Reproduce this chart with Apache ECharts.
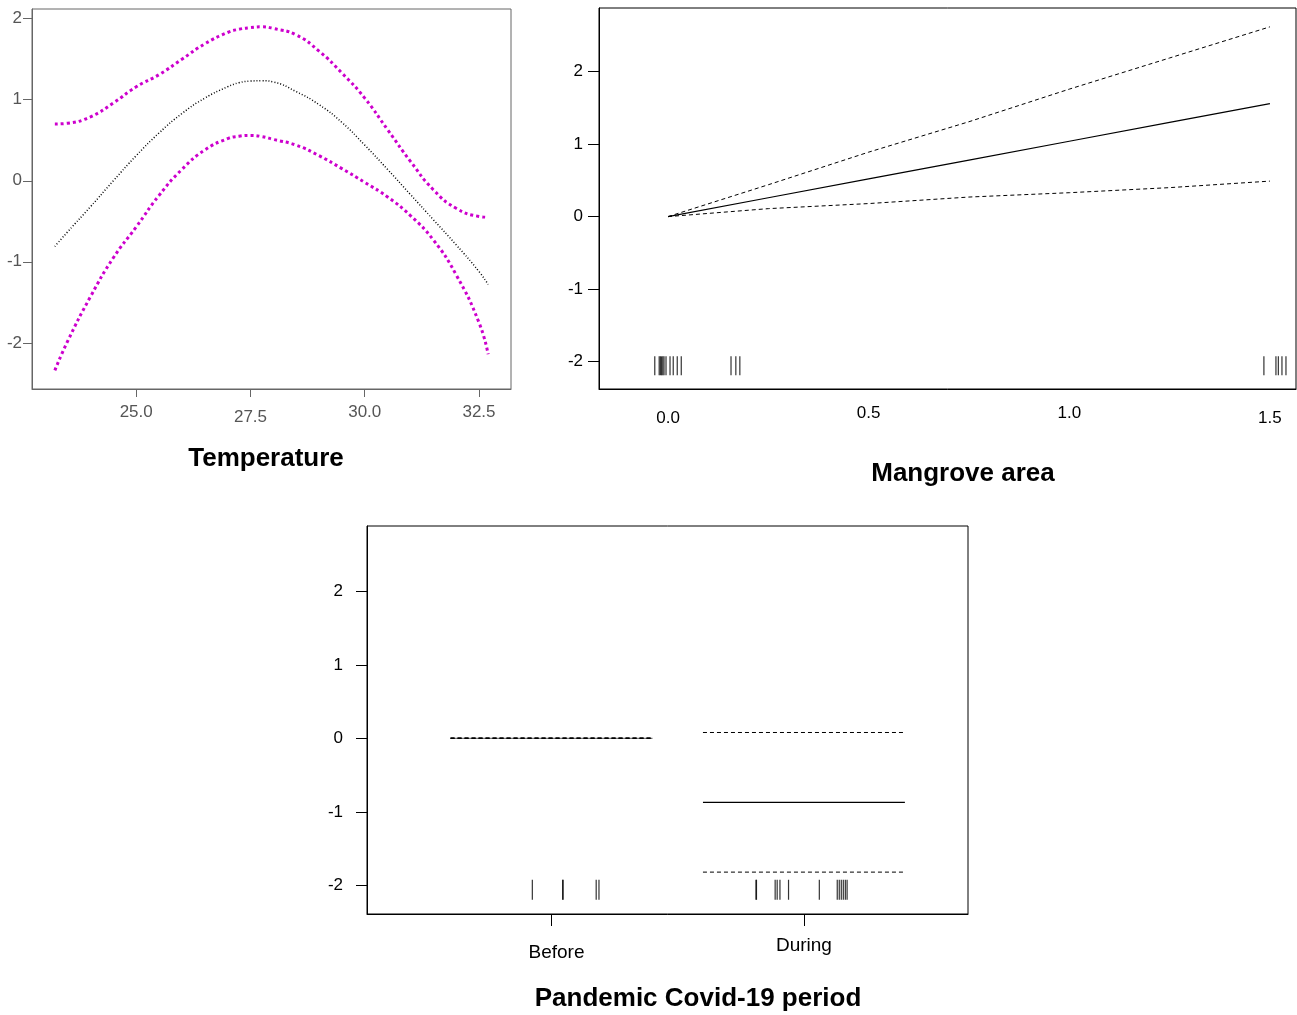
<!DOCTYPE html>
<html>
<head>
<meta charset="utf-8">
<title>GAM partial effects</title>
<script src="https://cdn.jsdelivr.net/npm/echarts@6/dist/echarts.min.js"></script>
<style>
  html, body { margin: 0; padding: 0; background: #fff; }
  #chart { width: 1297px; height: 1015px; }
</style>
</head>
<body>
<div id="chart"></div>
<script>
// ---- data: Temperature panel ----
var tempX = [23.22, 23.5, 24.0, 24.5, 25.0, 25.5, 26.0, 26.5, 27.0, 27.25, 27.5, 27.75, 28.0, 28.5, 29.0, 29.5, 30.0, 30.5, 31.0, 31.5, 32.0, 32.5, 32.7];
var tempFit = [-0.81, -0.63, -0.32, 0.00, 0.31, 0.59, 0.83, 1.02, 1.16, 1.21, 1.23, 1.235, 1.22, 1.10, 0.94, 0.72, 0.44, 0.14, -0.17, -0.48, -0.79, -1.12, -1.28];
var tempUpper = [0.70, 0.71, 0.79, 0.96, 1.16, 1.31, 1.50, 1.69, 1.83, 1.87, 1.89, 1.90, 1.88, 1.80, 1.60, 1.33, 1.02, 0.63, 0.24, -0.11, -0.34, -0.44, -0.45];
var tempLower = [-2.34, -1.98, -1.43, -0.95, -0.57, -0.18, 0.14, 0.38, 0.52, 0.55, 0.56, 0.545, 0.51, 0.44, 0.31, 0.15, -0.02, -0.20, -0.43, -0.73, -1.16, -1.75, -2.14];
var tempTicks = [25.0, 27.5, 30.0, 32.5];

// ---- data: Mangrove area panel ----
var mangroveX = [0, 0.25, 0.5, 0.75, 1.0, 1.25, 1.5];
var mangroveFit = [0, 0.26, 0.52, 0.78, 1.04, 1.30, 1.56];
var mangroveUpper = [0, 0.44, 0.89, 1.31, 1.76, 2.19, 2.62];
var mangroveLower = [0, 0.11, 0.18, 0.27, 0.33, 0.40, 0.49];
var mangroveRug = [-0.033, -0.022, -0.019, -0.016, -0.013, -0.010, -0.005, 0.005, 0.013, 0.023, 0.033,
  0.157, 0.169, 0.179, 1.485, 1.515, 1.521, 1.530, 1.540];
var mangroveTicks = [0, 0.5, 1.0, 1.5];

// ---- data: Covid-19 period panel ----
var periodCats = ['Before', 'During'];
var periodFit = [0, -0.87];
var periodUpper = [0, 0.08];
var periodLower = [0, -1.82];
var periodRug = [0.924, 1.044, 1.046, 1.177, 1.188, 1.810, 1.812, 1.886, 1.894, 1.905, 1.939, 2.061,
  2.132, 2.140, 2.148, 2.156, 2.164, 2.171];

var yTicks = [-2, -1, 0, 1, 2];
var rugLevel = -2.06;

var chart = echarts.init(document.getElementById('chart'));

function pairs(xs, ys) {
  return xs.map(function (x, i) { return [x, ys[i]]; });
}

function valAxis(idx, min, max, ticks, opt) {
  return {
    type: 'value',
    gridIndex: idx,
    min: min,
    max: max,
    splitLine: { show: false },
    axisLine: { show: true, onZero: false, lineStyle: { color: opt.lineColor, width: 1 } },
    axisTick: { show: opt.tickLen > 0, customValues: ticks, length: opt.tickLen, lineStyle: { color: opt.lineColor } },
    axisLabel: {
      customValues: ticks,
      margin: opt.margin,
      color: opt.labelColor,
      fontSize: opt.fontSize || 17,
      fontFamily: 'Liberation Sans, Arial, sans-serif',
      formatter: opt.formatter,
      rich: opt.rich
    }
  };
}

var series = [];

// Temperature curves
series.push({
  type: 'line', xAxisIndex: 0, yAxisIndex: 0, data: pairs(tempX, tempUpper),
  smooth: 0.5, showSymbol: false, lineStyle: { color: '#cd00cd', width: 3, type: [3, 3] }
});
series.push({
  type: 'line', xAxisIndex: 0, yAxisIndex: 0, data: pairs(tempX, tempLower),
  smooth: 0.5, showSymbol: false, lineStyle: { color: '#cd00cd', width: 3, type: [3, 3] }
});
series.push({
  type: 'line', xAxisIndex: 0, yAxisIndex: 0, data: pairs(tempX, tempFit),
  smooth: 0.5, showSymbol: false, lineStyle: { color: '#000', width: 1.5, type: [1, 2] }
});

// Mangrove lines
series.push({
  type: 'line', xAxisIndex: 1, yAxisIndex: 1, data: pairs(mangroveX, mangroveFit),
  showSymbol: false, lineStyle: { color: '#000', width: 1.2 }
});
[mangroveUpper, mangroveLower].forEach(function (arr) {
  series.push({
    type: 'line', xAxisIndex: 1, yAxisIndex: 1, data: pairs(mangroveX, arr),
    showSymbol: false, lineStyle: { color: '#000', width: 1, type: [4, 3] }
  });
});
series.push({
  type: 'scatter', xAxisIndex: 1, yAxisIndex: 1,
  data: mangroveRug.map(function (x) { return [x, rugLevel]; }),
  symbol: 'rect', symbolSize: [1.2, 19], itemStyle: { color: '#000' }
});

// Covid period segments
periodCats.forEach(function (c, i) {
  var x0 = i + 1 - 0.4, x1 = i + 1 + 0.4;
  series.push({
    type: 'line', xAxisIndex: 2, yAxisIndex: 2, data: [[x0, periodFit[i]], [x1, periodFit[i]]],
    showSymbol: false, lineStyle: { color: i === 0 ? '#777' : '#000', width: 1.2 }
  });
  [periodUpper[i], periodLower[i]].forEach(function (v) {
    series.push({
      type: 'line', xAxisIndex: 2, yAxisIndex: 2, data: [[x0, v], [x1, v]],
      showSymbol: false, lineStyle: { color: '#000', width: i === 0 ? 1.5 : 1, type: [4, 3] }
    });
  });
});
series.push({
  type: 'scatter', xAxisIndex: 2, yAxisIndex: 2,
  data: periodRug.map(function (x) { return [x, rugLevel]; }),
  symbol: 'rect', symbolSize: [1.2, 20], itemStyle: { color: '#000' }
});

series.forEach(function (s) { s.silent = true; s.animation = false; });

var titleFont = 'bold 26px Liberation Sans, Arial, sans-serif';

var option = {
  animation: false,
  backgroundColor: '#fff',
  grid: [
    { left: 32, top: 9, width: 479, height: 380, show: true, borderColor: '#666', borderWidth: 1, outerBoundsMode: 'none' },
    { left: 599, top: 8, width: 697, height: 381, show: true, borderColor: '#000', borderWidth: 1, outerBoundsMode: 'none' },
    { left: 367, top: 526, width: 601, height: 388, show: true, borderColor: '#000', borderWidth: 1, outerBoundsMode: 'none' }
  ],
  xAxis: [
    valAxis(0, 22.72, 33.2, tempTicks, {
      lineColor: '#666', labelColor: '#555', tickLen: 8, margin: 15,
      formatter: function (v) { return v === 27.5 ? '{low|27.5}' : v.toFixed(1); },
      rich: { low: { padding: [5, 0, 0, 0], fontSize: 17, color: '#555', fontFamily: 'Liberation Sans, Arial, sans-serif' } }
    }),
    valAxis(1, -0.172, 1.565, mangroveTicks, {
      lineColor: '#000', labelColor: '#000', tickLen: 0, margin: 16,
      formatter: function (v) { return (v === 0 || v === 1.5) ? '{low|' + v.toFixed(1) + '}' : v.toFixed(1); },
      rich: { low: { padding: [5, 0, 0, 0], fontSize: 17, color: '#000', fontFamily: 'Liberation Sans, Arial, sans-serif' } }
    }),
    valAxis(2, 0.269, 2.65, [1, 2], {
      lineColor: '#000', labelColor: '#000', tickLen: 12, margin: 22, fontSize: 19,
      formatter: function (v) { return v === 1 ? '{low|' + periodCats[0] + '}' : periodCats[v - 1]; },
      rich: { low: { padding: [7, 0, 0, 10], fontSize: 19, color: '#000', fontFamily: 'Liberation Sans, Arial, sans-serif' } }
    })
  ],
  yAxis: [
    valAxis(0, -2.57, 2.12, yTicks, { lineColor: '#666', labelColor: '#555', tickLen: 9, margin: 10 }),
    valAxis(1, -2.38, 2.88, yTicks, { lineColor: '#000', labelColor: '#000', tickLen: 11, margin: 16 }),
    valAxis(2, -2.39, 2.89, yTicks, { lineColor: '#000', labelColor: '#000', tickLen: 11, margin: 24 })
  ],
  graphic: [
    { type: 'text', x: 266, y: 459, style: { text: 'Temperature', font: titleFont, fill: '#000', align: 'center', verticalAlign: 'middle' } },
    { type: 'text', x: 963, y: 474, style: { text: 'Mangrove area', font: titleFont, fill: '#000', align: 'center', verticalAlign: 'middle' } },
    { type: 'text', x: 698, y: 999, style: { text: 'Pandemic Covid-19 period', font: titleFont, fill: '#000', align: 'center', verticalAlign: 'middle' } }
  ],
  series: series
};

chart.setOption(option);
</script>
</body>
</html>
